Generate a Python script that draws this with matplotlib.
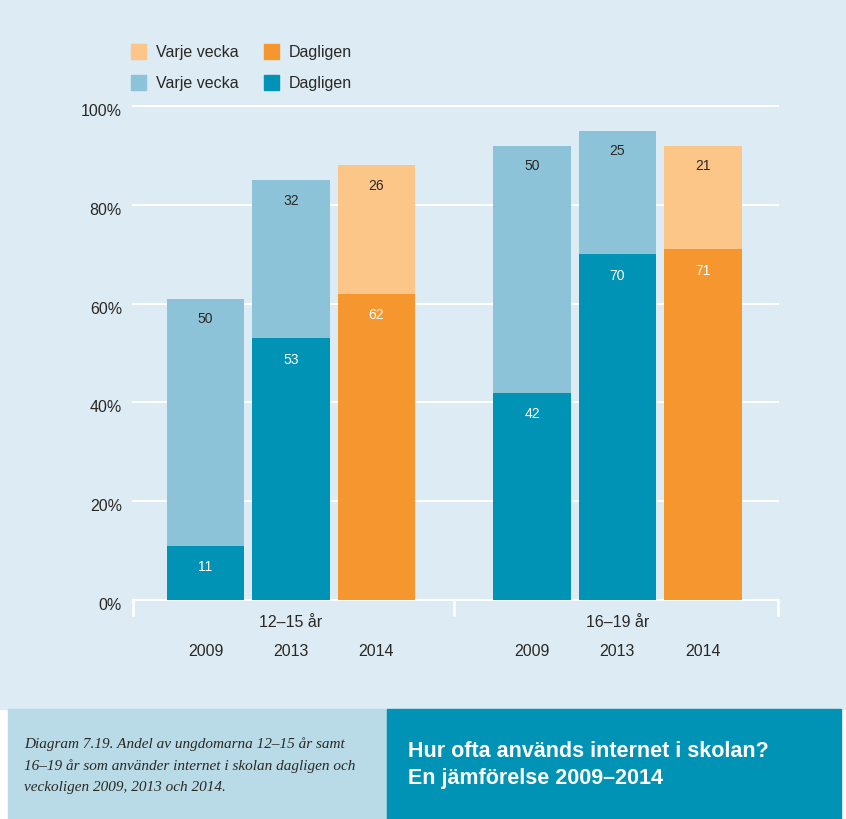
import matplotlib
matplotlib.use("Agg")
import matplotlib.pyplot as plt
import matplotlib.transforms as mtransforms
from matplotlib.patches import Rectangle

plt.rcParams['font.family'] = ['Liberation Sans', 'DejaVu Sans']

# data
grupper = ['12–15 år', '16–19 år']
ar = ['2009', '2013', '2014', '2009', '2013', '2014']
dagligen = [11, 53, 62, 42, 70, 71]
varje_vecka = [50, 32, 26, 50, 25, 21]
ar_2014 = [False, False, True, False, False, True]

# colours
bg = '#dcebf4'
teal = '#0093b5'
ljusbla = '#8dc3d8'
orange = '#f5962f'
ljusorange = '#fcc688'
textfarg = '#2b2823'

W, H = 846, 820
fig = plt.figure(figsize=(W / 100, H / 100), dpi=100, facecolor='white')

def px(x, y, w, h):
    # pixel box (top-left origin) -> figure coords
    return (x / W, 1 - (y + h) / H, w / W, h / H)

# backgrounds
for (bx, by, bw, bh, c) in [(0, 0, 846, 710, bg), (8, 710, 379, 110, '#b8dbe7'),
                            (387, 710, 454, 110, teal)]:
    x0, y0, w0, h0 = px(bx, by, bw, bh)
    fig.patches.append(Rectangle((x0, y0), w0, h0, transform=fig.transFigure,
                                 color=c, zorder=-5))

ax = fig.add_axes(px(133, 107, 645, 494))
ax.set_facecolor('none')
ax.set_zorder(2)

pos = [0, 1, 2, 3.82, 4.82, 5.82]
bredd = 0.91
for i in range(len(pos)):
    c1 = orange if ar_2014[i] else teal
    c2 = ljusorange if ar_2014[i] else ljusbla
    ax.bar(pos[i], dagligen[i], width=bredd, color=c1, zorder=3)
    ax.bar(pos[i], varje_vecka[i], bottom=dagligen[i], width=bredd, color=c2, zorder=3)
    ax.text(pos[i], dagligen[i] - 4.2, str(dagligen[i]), ha='center', va='center',
            color='white', fontsize=10, zorder=4)
    ax.text(pos[i], dagligen[i] + varje_vecka[i] - 4, str(varje_vecka[i]), ha='center',
            va='center', color=textfarg, fontsize=10, zorder=4)
    ax.text(pos[i], -10.2, ar[i], ha='center', va='center', color=textfarg, fontsize=11.5)

ax.set_xlim(-0.85, 6.70)
ax.set_ylim(0, 100)
ax.set_yticks(range(0, 101, 20))
ax.set_yticklabels([f'{v}%' for v in range(0, 101, 20)], fontsize=11.5, color=textfarg)
ax.tick_params(axis='y', length=0, pad=8)
flytt = mtransforms.ScaledTranslation(0, -3 / 100, fig.dpi_scale_trans)
for lab in ax.get_yticklabels():
    lab.set_transform(lab.get_transform() + flytt)
ax.set_xticks([])
for s in ax.spines.values():
    s.set_visible(False)
for v in range(0, 101, 20):
    ax.axhline(v, color='white', lw=1.5, zorder=1, clip_on=False)

# group separators and labels
for xs in [-0.85, 2.91, 6.70]:
    ax.plot([xs, xs], [0, -3.1], color='white', lw=1.8, clip_on=False, zorder=1)
ax.text(1, -4.4, grupper[0], ha='center', va='center', color=textfarg, fontsize=11.5)
ax.text(4.82, -4.4, grupper[1], ha='center', va='center', color=textfarg, fontsize=11.5)

# legend
leg = [(131, 45, ljusorange, 'Varje vecka'), (264, 45, orange, 'Dagligen'),
       (131, 76, ljusbla, 'Varje vecka'), (264, 76, teal, 'Dagligen')]
for lx, ly, c, t in leg:
    x0, y0, w0, h0 = px(lx, ly, 15, 15)
    fig.patches.append(Rectangle((x0, y0), w0, h0, transform=fig.transFigure, color=c))
    fig.text((lx + 25) / W, 1 - (ly + 7.5) / H, t, ha='left', va='center',
             color=textfarg, fontsize=11.5)

# caption
rader = ['Diagram 7.19. Andel av ungdomarna 12–15 år samt',
         '16–19 år som använder internet i skolan dagligen och',
         'veckoligen 2009, 2013 och 2014.']
for k, r in enumerate(rader):
    fig.text(24 / W, 1 - (744 + 22 * k) / H, r, ha='left', va='center', color=textfarg,
             fontsize=11, style='italic', family=['Liberation Serif', 'DejaVu Serif'])

fig.text(408 / W, 1 - 752 / H, 'Hur ofta används internet i skolan?', ha='left', va='center',
         color='white', fontsize=15.5, fontweight='bold')
fig.text(408 / W, 1 - 779 / H, 'En jämförelse 2009–2014', ha='left', va='center',
         color='white', fontsize=15.5, fontweight='bold')

fig.savefig('out.png', dpi=100, facecolor='white')
